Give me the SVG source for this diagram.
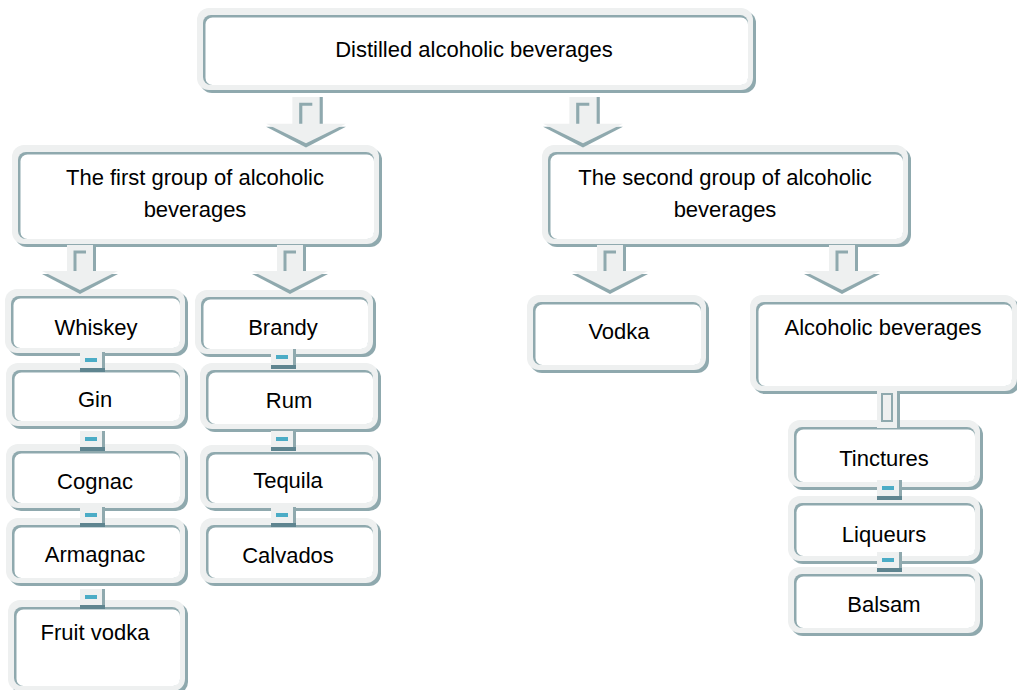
<svg xmlns="http://www.w3.org/2000/svg" xmlns:xlink="http://www.w3.org/1999/xlink" width="1017" height="690" viewBox="0 0 1017 690">
<style>
.sh{fill:#8fa9ae}
.fr{fill:#eef0f0}
.dk{fill:#8fa9ae}
.wh{fill:#ffffff}
.t{font-family:"Liberation Sans",Arial,sans-serif;font-size:22px;fill:#000;text-anchor:middle}
</style>
<defs>
<g id="arr">
<rect x="-10" y="0" width="26" height="30" fill="#8fa9ae"/>
<rect x="-13" y="0" width="26" height="30" fill="#eef0f0"/>
<polygon points="-38,29 38,29 0,49" fill="#8fa9ae"/>
<polygon points="-38,26 38,26 0,45" fill="#eef0f0"/>
<path d="M-5,26 V7 H6" stroke="#8fa9ae" stroke-width="3" fill="none"/>
</g>
<g id="sq">
<rect x="-11" y="-8" width="25" height="20" fill="#8fa9ae"/>
<rect x="-11" y="-8" width="22" height="20" fill="#eef0f0"/>
<rect x="-11" y="8" width="25" height="4" fill="#5f8590"/>
<rect x="-6" y="-2" width="12" height="4" fill="#4bacc6"/>
</g>
</defs>
<rect width="1017" height="690" fill="#ffffff"/>

<g id="n-top">
<rect class="sh" x="200" y="11" width="556" height="82" rx="12"/>
<rect class="fr" x="197" y="8" width="556" height="82" rx="12"/>
<rect class="dk" x="203" y="15" width="545" height="70" rx="8"/>
<rect class="wh" x="205.5" y="17.5" width="542.5" height="67.5" rx="7"/>
<text class="t" x="474" y="57">Distilled alcoholic beverages</text>
</g>
<g id="n-first">
<rect class="sh" x="15" y="148" width="367" height="99" rx="12"/>
<rect class="fr" x="12" y="145" width="367" height="99" rx="12"/>
<rect class="dk" x="18" y="152" width="356" height="87" rx="8"/>
<rect class="wh" x="20.5" y="154.5" width="353.5" height="84.5" rx="7"/>
<text class="t" x="195" y="185">The first group of alcoholic</text>
<text class="t" x="195" y="217">beverages</text>
</g>
<g id="n-second">
<rect class="sh" x="545" y="148" width="366" height="99" rx="12"/>
<rect class="fr" x="542" y="145" width="366" height="99" rx="12"/>
<rect class="dk" x="548" y="152" width="355" height="87" rx="8"/>
<rect class="wh" x="550.5" y="154.5" width="352.5" height="84.5" rx="7"/>
<text class="t" x="725" y="185">The second group of alcoholic</text>
<text class="t" x="725" y="217">beverages</text>
</g>
<g id="n-whiskey">
<rect class="sh" x="8" y="292" width="180" height="64" rx="12"/>
<rect class="fr" x="5" y="289" width="180" height="64" rx="12"/>
<rect class="dk" x="11" y="296" width="169" height="52" rx="8"/>
<rect class="wh" x="13.5" y="298.5" width="166.5" height="49.5" rx="7"/>
<text class="t" x="96" y="335">Whiskey</text>
</g>
<g id="n-gin">
<rect class="sh" x="9" y="366" width="179" height="63" rx="12"/>
<rect class="fr" x="6" y="363" width="179" height="63" rx="12"/>
<rect class="dk" x="12" y="370" width="168" height="51" rx="8"/>
<rect class="wh" x="14.5" y="372.5" width="165.5" height="48.5" rx="7"/>
<text class="t" x="95" y="407">Gin</text>
</g>
<g id="n-cognac">
<rect class="sh" x="9" y="447" width="179" height="64" rx="12"/>
<rect class="fr" x="6" y="444" width="179" height="64" rx="12"/>
<rect class="dk" x="12" y="451" width="168" height="52" rx="8"/>
<rect class="wh" x="14.5" y="453.5" width="165.5" height="49.5" rx="7"/>
<text class="t" x="95" y="489">Cognac</text>
</g>
<g id="n-armagnac">
<rect class="sh" x="9" y="521" width="179" height="65" rx="12"/>
<rect class="fr" x="6" y="518" width="179" height="65" rx="12"/>
<rect class="dk" x="12" y="525" width="168" height="53" rx="8"/>
<rect class="wh" x="14.5" y="527.5" width="165.5" height="50.5" rx="7"/>
<text class="t" x="95" y="562">Armagnac</text>
</g>
<g id="n-fruitvodka">
<rect class="sh" x="11" y="603" width="177" height="91" rx="12"/>
<rect class="fr" x="8" y="600" width="177" height="91" rx="12"/>
<rect class="dk" x="14" y="607" width="166" height="79" rx="8"/>
<rect class="wh" x="16.5" y="609.5" width="163.5" height="76.5" rx="7"/>
<text class="t" x="95" y="640">Fruit vodka</text>
</g>
<g id="n-brandy">
<rect class="sh" x="198" y="293" width="178" height="64" rx="12"/>
<rect class="fr" x="195" y="290" width="178" height="64" rx="12"/>
<rect class="dk" x="201" y="297" width="167" height="52" rx="8"/>
<rect class="wh" x="203.5" y="299.5" width="164.5" height="49.5" rx="7"/>
<text class="t" x="283" y="335">Brandy</text>
</g>
<g id="n-rum">
<rect class="sh" x="203" y="366" width="178" height="66" rx="12"/>
<rect class="fr" x="200" y="363" width="178" height="66" rx="12"/>
<rect class="dk" x="206" y="370" width="167" height="54" rx="8"/>
<rect class="wh" x="208.5" y="372.5" width="164.5" height="51.5" rx="7"/>
<text class="t" x="289" y="408">Rum</text>
</g>
<g id="n-tequila">
<rect class="sh" x="203" y="448" width="178" height="63" rx="12"/>
<rect class="fr" x="200" y="445" width="178" height="63" rx="12"/>
<rect class="dk" x="206" y="452" width="167" height="51" rx="8"/>
<rect class="wh" x="208.5" y="454.5" width="164.5" height="48.5" rx="7"/>
<text class="t" x="288" y="488">Tequila</text>
</g>
<g id="n-calvados">
<rect class="sh" x="203" y="521" width="178" height="65" rx="12"/>
<rect class="fr" x="200" y="518" width="178" height="65" rx="12"/>
<rect class="dk" x="206" y="525" width="167" height="53" rx="8"/>
<rect class="wh" x="208.5" y="527.5" width="164.5" height="50.5" rx="7"/>
<text class="t" x="288" y="563">Calvados</text>
</g>
<g id="n-vodka">
<rect class="sh" x="530" y="298" width="179" height="75" rx="12"/>
<rect class="fr" x="527" y="295" width="179" height="75" rx="12"/>
<rect class="dk" x="533" y="302" width="168" height="63" rx="8"/>
<rect class="wh" x="535.5" y="304.5" width="165.5" height="60.5" rx="7"/>
<text class="t" x="619" y="339">Vodka</text>
</g>
<g id="n-alcoholic">
<rect class="sh" x="753" y="298" width="267" height="96" rx="12"/>
<rect class="fr" x="750" y="295" width="267" height="96" rx="12"/>
<rect class="dk" x="756" y="302" width="256" height="84" rx="8"/>
<rect class="wh" x="758.5" y="304.5" width="253.5" height="81.5" rx="7"/>
<text class="t" x="883" y="335">Alcoholic beverages</text>
</g>
<g id="n-tinctures">
<rect class="sh" x="791" y="423" width="192" height="67" rx="12"/>
<rect class="fr" x="788" y="420" width="192" height="67" rx="12"/>
<rect class="dk" x="794" y="427" width="181" height="55" rx="8"/>
<rect class="wh" x="796.5" y="429.5" width="178.5" height="52.5" rx="7"/>
<text class="t" x="884" y="466">Tinctures</text>
</g>
<g id="n-liqueurs">
<rect class="sh" x="791" y="499" width="192" height="65" rx="12"/>
<rect class="fr" x="788" y="496" width="192" height="65" rx="12"/>
<rect class="dk" x="794" y="503" width="181" height="53" rx="8"/>
<rect class="wh" x="796.5" y="505.5" width="178.5" height="50.5" rx="7"/>
<text class="t" x="884" y="542">Liqueurs</text>
</g>
<g id="n-balsam">
<rect class="sh" x="791" y="570" width="192" height="66" rx="12"/>
<rect class="fr" x="788" y="567" width="192" height="66" rx="12"/>
<rect class="dk" x="794" y="574" width="181" height="54" rx="8"/>
<rect class="wh" x="796.5" y="576.5" width="178.5" height="51.5" rx="7"/>
<text class="t" x="884" y="612">Balsam</text>
</g>

<g id="connectors">
<use xlink:href="#arr" href="#arr" transform="translate(306,97) scale(1.05,1.03)"/>
<use xlink:href="#arr" href="#arr" transform="translate(583,97) scale(1.05,1.03)"/>
<use xlink:href="#arr" href="#arr" transform="translate(80,245)"/>
<use xlink:href="#arr" href="#arr" transform="translate(290,245)"/>
<use xlink:href="#arr" href="#arr" transform="translate(610,245)"/>
<use xlink:href="#arr" href="#arr" transform="translate(842,245)"/>
<use xlink:href="#sq" href="#sq" transform="translate(91,360)"/>
<use xlink:href="#sq" href="#sq" transform="translate(91,439)"/>
<use xlink:href="#sq" href="#sq" transform="translate(91,515)"/>
<use xlink:href="#sq" href="#sq" transform="translate(91,597)"/>
<use xlink:href="#sq" href="#sq" transform="translate(282,357)"/>
<use xlink:href="#sq" href="#sq" transform="translate(282,439)"/>
<use xlink:href="#sq" href="#sq" transform="translate(282,515)"/>
<use xlink:href="#sq" href="#sq" transform="translate(888,488)"/>
<use xlink:href="#sq" href="#sq" transform="translate(888,560)"/>
<g id="link-alc-tinct">
<rect x="880" y="391" width="20" height="37" fill="#8fa9ae"/>
<rect x="877" y="391" width="20" height="37" fill="#eef0f0"/>
<rect x="882" y="394" width="10" height="27" fill="none" stroke="#8fa9ae" stroke-width="2"/>
</g>
</g>
</svg>
